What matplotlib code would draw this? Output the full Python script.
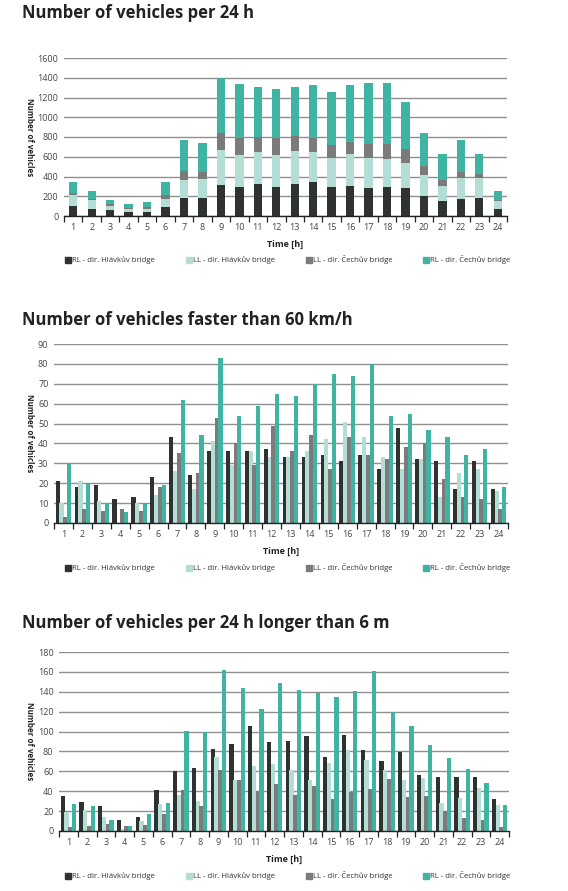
import numpy as np
import matplotlib
matplotlib.use("Agg")
import matplotlib.pyplot as plt
from matplotlib.lines import Line2D

# hours on the x axis
hours = list(range(1, 25))
series_names = ["RL - dir. Hlávkův bridge", "LL - dir. Hlávkův bridge",
                "LL - dir. Čechův bridge", "RL - dir. Čechův bridge"]
colors = ["#2e3231", "#b3ddd5", "#7b7b7b", "#40b4a3"]

# panel 1: vehicles per 24 h (stacked)
total_rl_hlavkuv = [102, 68, 58, 41, 41, 92, 183, 183, 312, 292, 322, 292,
                    322, 342, 292, 302, 281, 292, 281, 200, 149, 170, 180, 68]
total_ll_hlavkuv = [108, 95, 40, 30, 30, 78, 180, 190, 356, 325, 325, 325,
                    336, 305, 298, 325, 309, 284, 255, 214, 153, 213, 203, 85]
total_ll_cechuv = [24, 5, 24, 7, 17, 40, 91, 71, 173, 169, 153, 173,
                   149, 146, 125, 122, 139, 153, 142, 91, 61, 61, 41, 7]
total_rl_cechuv = [112, 86, 38, 41, 51, 132, 316, 295, 556, 553, 509, 498,
                   502, 536, 543, 580, 620, 620, 478, 336, 264, 326, 203, 91]

# panel 2: vehicles faster than 60 km/h
fast_rl_hlavkuv = [21, 18, 19, 12, 13, 23, 43, 24, 36, 36, 36, 37,
                   33, 33, 34, 31, 34, 27, 48, 32, 31, 17, 31, 17]
fast_ll_hlavkuv = [10, 21, 11, 0, 10, 14, 26, 17, 41, 29, 36, 33,
                   33, 36, 42, 51, 43, 33, 27, 32, 13, 25, 27, 16]
fast_ll_cechuv = [3, 7, 6, 7, 6, 18, 35, 25, 53, 40, 29, 49,
                  36, 44, 27, 43, 34, 32, 38, 40, 22, 13, 12, 7]
fast_rl_cechuv = [30, 20, 10, 5.5, 10, 19, 62, 44, 83, 54, 59, 65,
                  64, 70, 75, 74, 80, 54, 55, 47, 43, 34, 37, 18]

# panel 3: vehicles longer than 6 m
long_rl_hlavkuv = [35, 29, 25, 11, 14, 41, 60, 63, 82, 87, 106, 90,
                   91, 96, 74, 97, 81, 70, 79, 56, 54, 54, 54, 32]
long_ll_hlavkuv = [19, 21, 14, 2, 10, 27, 36, 30, 74, 51, 65, 67,
                   61, 51, 68, 81, 71, 61, 51, 53, 28, 33, 43, 26]
long_ll_cechuv = [4, 5, 7, 5, 6, 17, 41, 25, 61, 51, 40, 47,
                  36, 45, 32, 39, 42, 52, 34, 35, 20, 13, 11, 4]
long_rl_cechuv = [27, 25, 11, 5, 17, 28, 101, 100, 162, 144, 123, 149,
                  142, 139, 135, 141, 161, 120, 106, 86, 73, 62, 48, 26]

titles = ["Number of vehicles per 24 h",
          "Number of vehicles faster than 60 km/h",
          "Number of vehicles per 24 h longer than 6 m"]

W, H = 568, 891
fig = plt.figure(figsize=(W / 100, H / 100), dpi=100)
plt.rcParams['font.family'] = ['Open Sans', 'DejaVu Sans']


def make_axes(left, right, top, bottom):
    return fig.add_axes([left / W, 1 - bottom / H, (right - left) / W, (bottom - top) / H])


def style_axes(ax, ymax, ystep, top, bottom):
    ax.set_xlim(0.5, 24.5)
    ax.set_ylim(0, ymax)
    ax.set_yticks(np.arange(0, ymax + 1, ystep))
    ax.set_xticks(hours)
    ax.set_xticks(np.arange(0.5, 25, 1), minor=True)
    ax.tick_params(axis='x', which='major', length=0, labelsize=6.5, colors='#444444', pad=5)
    ax.tick_params(axis='x', which='minor', length=4, width=0.9, color='#222222', direction='out')
    ax.tick_params(axis='y', length=0, labelsize=6.5, colors='#444444', pad=4)
    for s in ['left', 'right', 'top']:
        ax.spines[s].set_visible(False)
    ax.spines['bottom'].set_color('#222222')
    ax.spines['bottom'].set_linewidth(1.0)
    ax.grid(True, axis='y', color='#8f8f8f', linewidth=1.0)
    ax.set_axisbelow(True)
    fig.text(29 / W, 1 - (top + bottom) / 2 / H, 'Number of vehicles', rotation=270,
             fontsize=5.8, fontweight='bold', color='#222222', ha='center', va='center')
    ax.set_xlabel('Time [h]', fontsize=6.5, fontweight='bold', color='#222222', labelpad=6)


def add_legend(y):
    handles = [Line2D([0], [0], marker='s', color='w', markerfacecolor=c, markeredgecolor=c,
                      markersize=4.5, label=n) for c, n in zip(colors, series_names)]
    fig.legend(handles=handles, loc='center', bbox_to_anchor=(288 / W, 1 - y / H), ncol=4,
               frameon=False, fontsize=5.6, handlelength=0.6, handletextpad=0.2,
               columnspacing=4.1, labelcolor='#333333')


x = np.array(hours)

# --- panel 1: stacked
ax1 = make_axes(64, 507, 58, 216)
bottom = np.zeros(24)
for vals, c in zip([total_rl_hlavkuv, total_ll_hlavkuv, total_ll_cechuv, total_rl_cechuv], colors):
    ax1.bar(x, vals, 0.45, bottom=bottom, color=c, linewidth=0)
    bottom = bottom + np.array(vals)
style_axes(ax1, 1600, 200, 58, 216)
add_legend(260)
fig.text(22 / W, 1 - 13 / H, titles[0], fontsize=12, fontweight='bold', color='#222222', va='center')

# --- panel 2: grouped
ax2 = make_axes(54, 508, 344, 523)
offsets = [-0.3, -0.1, 0.1, 0.3]
for vals, c, off in zip([fast_rl_hlavkuv, fast_ll_hlavkuv, fast_ll_cechuv, fast_rl_cechuv], colors, offsets):
    ax2.bar(x + off, vals, 0.22, color=c, linewidth=0)
style_axes(ax2, 90, 10, 344, 523)
add_legend(568)
fig.text(22 / W, 1 - 320 / H, titles[1], fontsize=12, fontweight='bold', color='#222222', va='center')

# --- panel 3: grouped
ax3 = make_axes(59, 509, 652, 831)
for vals, c, off in zip([long_rl_hlavkuv, long_ll_hlavkuv, long_ll_cechuv, long_rl_cechuv], colors, offsets):
    ax3.bar(x + off, vals, 0.22, color=c, linewidth=0)
style_axes(ax3, 180, 20, 652, 831)
add_legend(876)
fig.text(22 / W, 1 - 623 / H, titles[2], fontsize=12, fontweight='bold', color='#222222', va='center')

fig.savefig('out.png', dpi=100, facecolor='white')
